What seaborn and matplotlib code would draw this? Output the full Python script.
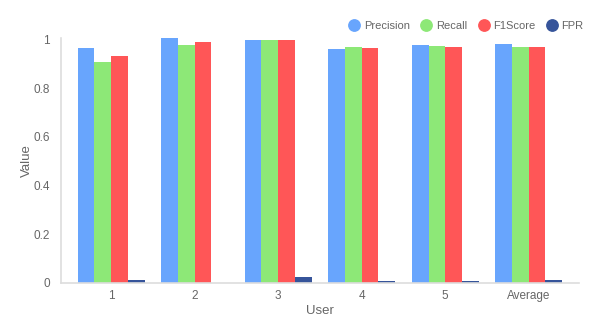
import matplotlib
matplotlib.use('Agg')
import matplotlib.pyplot as plt
from matplotlib.lines import Line2D
import pandas as pd
import seaborn as sns

users = ['1', '2', '3', '4', '5', 'Average']
metrics = ['Precision', 'Recall', 'F1Score', 'FPR']
precision = [0.964, 1.004, 0.998, 0.959, 0.976, 0.981]
recall = [0.909, 0.976, 0.996, 0.969, 0.974, 0.969]
f1score = [0.930, 0.989, 0.998, 0.963, 0.969, 0.969]
fpr = [0.010, 0.0, 0.022, 0.007, 0.007, 0.011]
colors = ['#68a5fd', '#8de877', '#ff5657', '#36549a']

sns.set_style('white')
plt.rcParams['font.family'] = ['Liberation Sans', 'DejaVu Sans']

# long format for seaborn
rows = []
for name, vals in zip(metrics, [precision, recall, f1score, fpr]):
    for u, v in zip(users, vals):
        rows.append({'User': u, 'Value': v, 'Metric': name})
df = pd.DataFrame(rows)

fig = plt.figure(figsize=(5.98, 3.16), dpi=100)
ax = fig.add_axes([0.102, 0.1054, 0.866, 0.7737])

sns.barplot(data=df, x='User', y='Value', hue='Metric', hue_order=metrics,
            palette=colors, width=0.8, saturation=1, linewidth=0, ax=ax)

ax.set_xlim(-0.6, 5.6)
ax.set_ylim(0, 1.005)
ax.set_yticks([0, 0.2, 0.4, 0.6, 0.8, 1.0])
ax.set_yticklabels(['0', '0.2', '0.4', '0.6', '0.8', '1'])

for side in ['top', 'right']:
    ax.spines[side].set_visible(False)
for side in ['left', 'bottom']:
    ax.spines[side].set_color('#dddddd')
    ax.spines[side].set_linewidth(1.2)

ax.tick_params(axis='both', length=0, labelsize=8.5, labelcolor='#666666')
ax.tick_params(axis='y', pad=8)
ax.tick_params(axis='x', pad=5)
ax.set_xlabel('User', fontsize=9.5, color='#666666', va='center')
ax.set_ylabel('Value', fontsize=9.5, color='#666666', va='center')
ax.xaxis.set_label_coords(0.5, -0.116)
ax.yaxis.set_label_coords(-0.066, 0.5)

# circle legend at the top right
ax.get_legend().remove()
handles = [Line2D([0], [0], marker='o', linestyle='', markersize=8.2,
                  markerfacecolor=c, markeredgecolor=c) for c in colors]
fig.legend(handles, metrics, loc='center right', bbox_to_anchor=(0.976, 0.919),
           ncol=4, frameon=False, fontsize=8, labelcolor='#666666',
           handlelength=1.0, handletextpad=0.35, columnspacing=1.0,
           borderaxespad=0, borderpad=0)

fig.savefig('out.png', dpi=100)
